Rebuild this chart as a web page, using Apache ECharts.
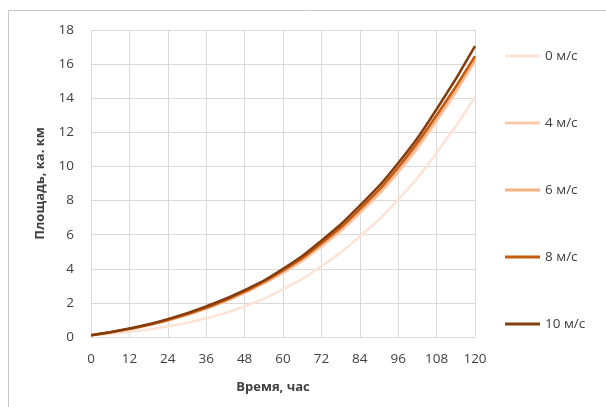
<!DOCTYPE html>
<html>
<head>
<meta charset="utf-8">
<script src="https://cdn.jsdelivr.net/npm/echarts@6/dist/echarts.min.js"></script>
<style>html,body{margin:0;padding:0;background:#fff}#c{width:606px;height:407px}</style>
</head>
<body>
<div id="c"></div>
<script>
var hours = [0, 12, 24, 36, 48, 60, 72, 84, 96, 108, 120];
var seriesNames = ['0 м/с', '4 м/с', '6 м/с', '8 м/с', '10 м/с'];
var wind0 = [0.1, 0.3, 0.62, 1.1, 1.8, 2.8, 4.15, 5.9, 8.05, 10.8, 14.07];
var wind4 = [0.1, 0.46, 0.96, 1.65, 2.57, 3.75, 5.3, 7.25, 9.65, 12.65, 16.15];
var wind6 = [0.1, 0.47, 0.98, 1.68, 2.62, 3.82, 5.4, 7.38, 9.8, 12.82, 16.3];
var wind8 = [0.1, 0.48, 1.0, 1.72, 2.67, 3.9, 5.5, 7.5, 9.95, 13.0, 16.47];
var wind10 = [0.1, 0.5, 1.05, 1.8, 2.75, 4.0, 5.65, 7.7, 10.2, 13.35, 17.06];
var colors = ['#FBE3D5', '#F8CBAD', '#F4B183', '#C55A11', '#843C0C'];
var allData = [wind0, wind4, wind6, wind8, wind10];

var font = '"Open Sans", "Noto Sans", sans-serif';
var chart = echarts.init(document.getElementById('c'));
chart.setOption({
  animation: false,
  textStyle: {fontFamily: font},
  graphic: [{
    type: 'rect', left: 6, top: 8, silent: true,
    shape: {width: 700, height: 500},
    style: {fill: 'none', stroke: '#C8C8C8', lineWidth: 1}
  }],
  grid: {left: 91, right: 131, top: 30, bottom: 70},
  legend: {
    orient: 'vertical', left: 500, top: 44,
    icon: 'rect',
    itemWidth: 35, itemHeight: 3, itemGap: 53, itemTextGap: 4,
    textStyle: {fontFamily: font, fontSize: 13.5, color: '#404040'},
    data: seriesNames
  },
  xAxis: {
    type: 'value', min: 0, max: 120, interval: 12,
    name: 'Время, час', nameLocation: 'middle', nameGap: 44,
    nameTextStyle: {fontFamily: font, fontSize: 13, fontWeight: 'bold', color: '#404040', padding: [0, 20, 0, 0]},
    axisLine: {show: true, lineStyle: {color: '#D9D9D9', width: 1}},
    axisTick: {show: false},
    axisLabel: {fontFamily: font, fontSize: 13.5, color: '#404040', margin: 15},
    splitLine: {show: true, lineStyle: {color: '#D9D9D9', width: 1}}
  },
  yAxis: {
    type: 'value', min: 0, max: 18, interval: 2,
    name: 'Площадь, ка. км', nameLocation: 'middle', nameGap: 44,
    nameTextStyle: {fontFamily: font, fontSize: 13, fontWeight: 'bold', color: '#404040'},
    axisLine: {show: false},
    axisTick: {show: false},
    axisLabel: {fontFamily: font, fontSize: 13.5, color: '#404040', margin: 17},
    splitLine: {show: true, lineStyle: {color: '#D9D9D9', width: 1}}
  },
  series: seriesNames.map(function (n, i) {
    return {
      name: n, type: 'line', smooth: true, symbol: 'none',
      lineStyle: {color: colors[i], width: 2.5},
      itemStyle: {color: colors[i]},
      data: hours.map(function (h, j) { return [h, allData[i][j]]; })
    };
  })
});
</script>
</body>
</html>
